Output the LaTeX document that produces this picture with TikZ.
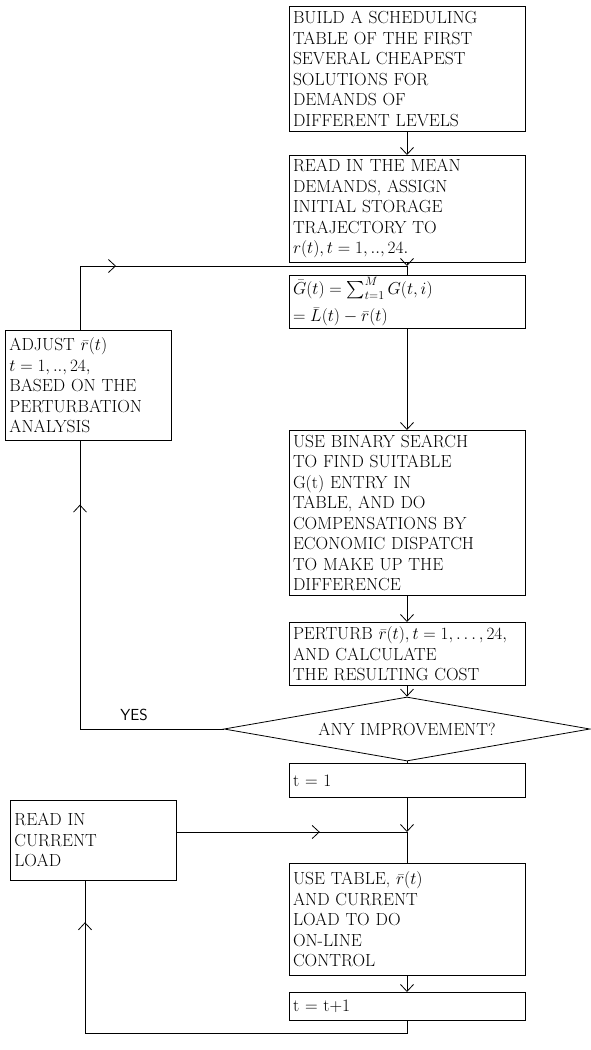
\documentclass[tikz,border=0pt]{standalone}
\usepackage{amsmath}
\usetikzlibrary{shapes.geometric, arrows.meta}
\usetikzlibrary{decorations.markings}
\newcommand{\flowfont}{\fontsize{17.5}{20.5}\selectfont}
\tikzset{
    flow box/.style = {draw, line width=0.8pt, anchor=north, text width=228pt, inner sep=4pt, align=left, font=\flowfont},
    side box/.style = {flow box, anchor=north west, text width=158pt},
    decision box/.style = {draw, line width=0.8pt, diamond, aspect=5.7, minimum width=366pt, minimum height=64pt, inner sep=1pt, font=\flowfont},
}
\tikzset{
    flow edge/.style = {draw, line width=0.8pt, -{Straight Barb[length=7pt, width=13pt]}},
    plain edge/.style = {draw, line width=0.8pt, -},
    mid arrow/.style = {plain edge, postaction={decorate}, decoration={markings, mark=at position #1 with {\arrow{Straight Barb[length=7pt, width=13pt]}}}},
}

\begin{document}
\begin{tikzpicture}[x=1pt, y=-1pt]
        \useasboundingbox (0, 0) rectangle (590, 1050);

        \node[flow box, minimum height=125pt] (build) at (407, 6) {BUILD A SCHEDULING\\ TABLE OF THE FIRST\\ SEVERAL CHEAPEST\\ SOLUTIONS FOR\\ DEMANDS OF\\ DIFFERENT LEVELS};
        \node[flow box, minimum height=101pt] (readmean) at (407, 155) {READ IN THE MEAN\\ DEMANDS, ASSIGN\\ INITIAL STORAGE\\ TRAJECTORY TO\\ $r(t), t = 1, .., 24.$};
        \node[flow box, minimum height=53pt, inner ysep=2pt] (gsum) at (407, 275) {$\bar{G}(t) = \sum_{t=1}^{M} G(t, i)$\\[7pt] $= \bar{L}(t) - \bar{r}(t)$};
        \node[side box, minimum height=110pt] (adjust) at (5, 330) {ADJUST $\bar{r}(t)$\\ $t = 1, .., 24,$\\ BASED ON THE\\ PERTURBATION\\ ANALYSIS};
        \node[flow box, minimum height=165pt] (binary) at (407, 430) {USE BINARY SEARCH\\ TO FIND SUITABLE\\ G(t) ENTRY IN\\ TABLE, AND DO\\ COMPENSATIONS BY\\ ECONOMIC DISPATCH\\ TO MAKE UP THE\\ DIFFERENCE};
        \node[flow box, minimum height=63pt] (perturb) at (407, 622) {PERTURB $\bar{r}(t), t = 1, \ldots, 24,$\\ AND CALCULATE\\ THE RESULTING COST};
        \node[decision box] (improve) at (407, 729) {ANY IMPROVEMENT?};
        \node[font=\sffamily\fontsize{16}{18}\selectfont] (yes) at (134, 715) {YES};
        \node[flow box, minimum height=34pt] (tone) at (407, 763) {t = 1};
        \node[side box, minimum height=80pt] (readload) at (10, 800) {READ IN\\ CURRENT\\ LOAD};
        \node[flow box, minimum height=112pt] (online) at (407, 863) {USE TABLE, $\bar{r}(t)$\\ AND CURRENT\\ LOAD TO DO\\ ON-LINE\\ CONTROL};
        \node[flow box, minimum height=28pt] (tnext) at (407, 992) {t = t+1};

        \coordinate (join1) at (407, 266);
        \coordinate (join2) at (407, 832);
        \coordinate (yescorner) at (80, 729);
        \coordinate (loopcorner) at (407, 1033);
        \coordinate (loadcorner) at (85, 1033);

        \draw[flow edge] (build) -- (readmean);
        \draw[flow edge] (readmean) -- (join1);
        \draw[plain edge] (join1) -- (gsum);
        \draw[flow edge] (gsum) -- (binary);
        \draw[flow edge] (binary) -- (perturb);
        \draw[flow edge] (perturb) -- (improve);
        \draw[plain edge] (improve) -- (tone);
        \draw[flow edge] (tone) -- (join2);
        \draw[plain edge] (join2) -- (online);
        \draw[flow edge] (online) -- (tnext);

        \draw[mid arrow=368pt] (improve.west) -- (yescorner) -- (yescorner |- adjust.south);
        \draw[mid arrow=100pt] (adjust.north -| yescorner) -- (yescorner |- join1) -- (join1);
        \draw[mid arrow=143pt] (readload.east |- join2) -- (join2);
        \draw[mid arrow=445pt] (tnext) -- (loopcorner) -- (loadcorner) -- (loadcorner |- readload.south);
    \end{tikzpicture}
\end{document}
